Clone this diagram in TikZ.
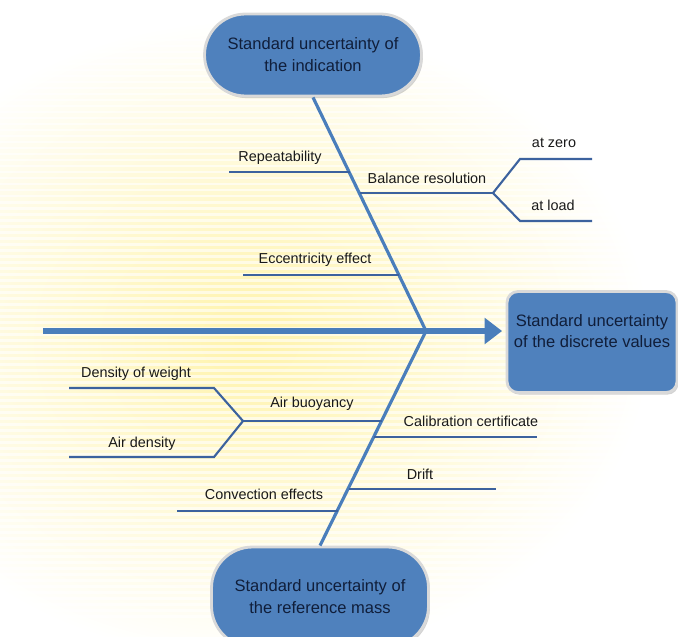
\documentclass[tikz,border=0pt]{standalone}
\usepackage{fontspec}
\setmainfont{Liberation Sans}
\usetikzlibrary{arrows.meta,shadows,positioning}
\definecolor{bone}{RGB}{74,126,187}
\definecolor{twig}{RGB}{60,98,158}
\definecolor{boxfill}{RGB}{79,129,189}
\definecolor{boxtext}{RGB}{16,30,58}
\definecolor{glow}{RGB}{255,243,170}
\tikzset{
  cause/.style={rectangle,rounded corners=0.82cm,fill=boxfill,draw=white!85!black,line width=1.6pt,
    drop shadow={shadow xshift=0.8pt,shadow yshift=-1.2pt,opacity=0.35},
    text=boxtext,align=center,font=\fontsize{9.4}{12.5}\selectfont,
    minimum width=4.34cm,minimum height=1.64cm,inner sep=0pt},
  result/.style={cause,rounded corners=0.22cm,minimum width=3.4cm,minimum height=2.02cm},
  lab/.style={font=\fontsize{8.2}{10}\selectfont,text=black!90,inner sep=0pt},
  bonel/.style={draw=bone,line width=1.8pt},
  twigl/.style={draw=twig,line width=1.2pt},
  spinel/.style={draw=bone,line width=3pt,-{Triangle[length=10pt,width=14.5pt]}}
}
\begin{document}
\begin{tikzpicture}[x=0.02cm,y=-0.02cm]
    \useasboundingbox (0,0) rectangle (678,636);
    % background glow with stripes
    \shade[inner color=glow,outer color=white] (250,340) ellipse [x radius=8cm,y radius=6.4cm];
    \foreach \y in {40,46,...,620}
        \draw[white,line width=1.7pt,opacity=0.6] (0,\y) -- (678,\y);

    % main boxes
    \node[cause] (ind) at (313,55) {Standard uncertainty of\\the indication};
    \node[cause,minimum height=2cm] (refm) at (320,597) {Standard uncertainty of\\the reference mass};
    \node[result] (disc) at (592,342) {Standard uncertainty\\of the discrete values\\ \mbox{}};

    % spine and bones
    \coordinate (tail) at (43,331);
    \coordinate (jn) at (426,331);
    \draw[spinel] (tail) -- ([xshift=-2pt]tail -| disc.west);
    \draw[bonel] (ind.south) -- (jn);
    \draw[bonel] (jn) -- (refm.north);

    % points on the bones
    \coordinate (rep) at (349.5,172);
    \coordinate (bal) at (359.6,193);
    \coordinate (ecc) at (399.1,275);
    \coordinate (buoy) at (381.8,421);
    \coordinate (cal) at (374.0,437);
    \coordinate (drift) at (348.5,489);
    \coordinate (conv) at (337.7,511);

    % free ends of the branches
    \coordinate (repE) at (229,172);
    \coordinate (balF) at (493,193);
    \coordinate (zK) at (520,159);
    \coordinate (zE) at (592,159);
    \coordinate (lK) at (520,221);
    \coordinate (lE) at (592,221);
    \coordinate (eccE) at (243,275);
    \coordinate (buoyF) at (243,421);
    \coordinate (dwK) at (214,388);
    \coordinate (dwE) at (69,388);
    \coordinate (adK) at (214,457);
    \coordinate (adE) at (69,457);
    \coordinate (calE) at (537,437);
    \coordinate (driftE) at (496,489);
    \coordinate (convE) at (177,511);

    % branches
    \draw[twigl] (repE) -- (rep);
    \draw[twigl] (bal) -- (balF);
    \draw[twigl] (balF) -- (zK) -- (zE);
    \draw[twigl] (balF) -- (lK) -- (lE);
    \draw[twigl] (eccE) -- (ecc);
    \draw[twigl] (buoy) -- (buoyF);
    \draw[twigl] (buoyF) -- (dwK) -- (dwE);
    \draw[twigl] (buoyF) -- (adK) -- (adE);
    \draw[twigl] (cal) -- (calE);
    \draw[twigl] (drift) -- (driftE);
    \draw[twigl] (convE) -- (conv);

    % labels
    \node[lab] (lrep) at (280,158) {Repeatability};
    \node[lab] (lbal) at (427,178) {Balance resolution};
    \node[lab] (lzero) at (554,143) {at zero};
    \node[lab] (lload) at (553,205) {at load};
    \node[lab] (lecc) at (315,260) {Eccentricity effect};
    \node[lab] (ldw) at (136,374) {Density of weight};
    \node[lab] (lad) at (142,444) {Air density};
    \node[lab] (lbuoy) at (312,404) {Air buoyancy};
    \node[lab] (lcal) at (471,421) {Calibration certificate};
    \node[lab] (ldrift) at (420,474) {Drift};
    \node[lab] (lconv) at (264,494) {Convection effects};
\end{tikzpicture}
\end{document}
